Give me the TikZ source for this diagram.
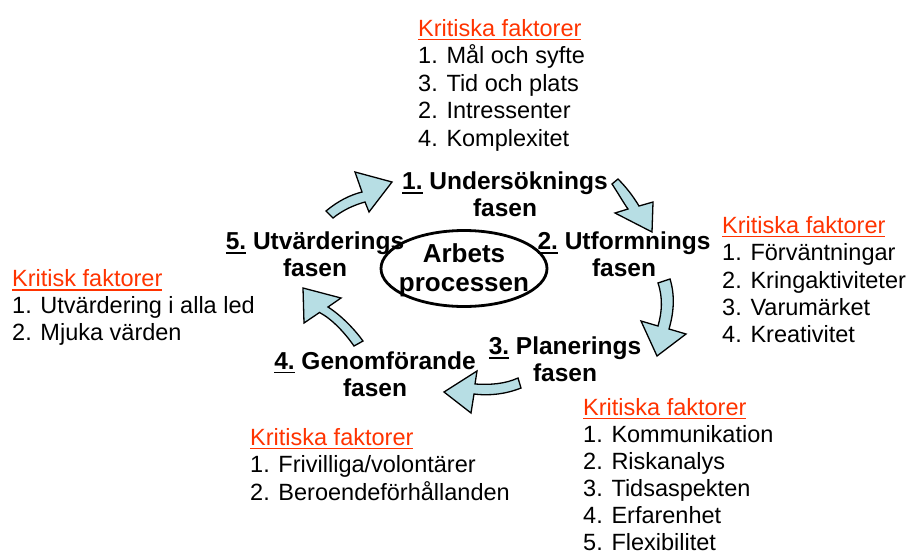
\documentclass[tikz,border=0pt]{standalone}
\usepackage{fontspec}
\setmainfont{Liberation Sans}
\definecolor{critred}{RGB}{255,51,0}
\definecolor{arrowblue}{RGB}{183,222,228}
\newcommand{\undl}[1]{\setbox0=\hbox{#1}\rlap{\rule[-4pt]{\wd0}{1.5pt}}\box0\relax}
\tikzset{
    every node/.style={font=\fontsize{23.5}{27}\selectfont},
    crithead/.style={anchor=base west, inner sep=0pt, text=critred},
    listitem/.style={anchor=base west, inner sep=0pt},
    phaselbl/.style={align=center, inner sep=0pt, font=\fontsize{24.5}{27}\selectfont\bfseries},
    blockarr/.style={fill=arrowblue, draw=black, line width=1.3pt, line join=miter},
}
\begin{document}
\begin{tikzpicture}[x=1pt, y=-1pt]
                    \useasboundingbox (0,0) rectangle (907,552);
                    % Centre
                    \node[inner sep=0pt, align=center, font=\fontsize{26}{29}\selectfont\bfseries]
                          (core) at (464,270) {Arbets\\processen};
                    \draw[line width=2.8pt] (464,268.5) ellipse [x radius=83, y radius=38];
                    % Phases
                    \node[phaselbl] (ph1) at (505,194.5) {\undl{1.} Undersöknings\\fasen};
                    \node[phaselbl] (ph2) at (624,254.5) {\undl{2.} Utformnings\\fasen};
                    \node[phaselbl] (ph3) at (565,359.5) {\undl{3.} Planerings\\fasen};
                    \node[phaselbl] (ph4) at (375,374) {\undl{4.} Genomförande\\fasen};
                    \node[phaselbl] (ph5) at (315,254.5) {\undl{5.} Utvärderings\\fasen};
                    % Arrows
                    \draw[blockarr] (326,211) .. controls (338,201) and (350,195) .. (362,192)
                        -- (355,172) -- (392,182) -- (369,212) -- (365,202)
                        .. controls (354,205) and (343,210) .. (333,218) -- cycle;
                    \draw[blockarr] (612,184) .. controls (618,193) and (623,202) .. (628,209)
                        -- (615,213) -- (652,232) -- (653,202) -- (639,206)
                        .. controls (633,196) and (626,187) .. (618,179) -- cycle;
                    \draw[blockarr] (658,283) .. controls (663,298) and (662,312) .. (658,326)
                        -- (641,321) -- (657,356) -- (686,334) -- (669,329)
                        .. controls (674,312) and (675,295) .. (670,279) -- cycle;
                    \draw[blockarr] (518,378) .. controls (505,384) and (490,385) .. (475,384)
                        -- (477,371) -- (444,392) -- (471,413) -- (474,394)
                        .. controls (490,396) and (506,394) .. (521,388) -- cycle;
                    \draw[blockarr] (354,346) .. controls (345,333) and (332,319) .. (319.5,312.5)
                        -- (304,323) -- (303,288) -- (341,298) -- (328,307)
                        .. controls (342,316) and (355,330) .. (363,341) -- cycle;
                    % Factors, top
                    \node[crithead] (top0) at (418,36) {\undl{Kritiska faktorer}};
                    \node[listitem] (top1) at (418,63.5) {1. Mål och syfte};
                    \node[listitem] (top2) at (418,91) {3. Tid och plats};
                    \node[listitem] (top3) at (418,118.5) {2. Intressenter};
                    \node[listitem] (top4) at (418,146) {4. Komplexitet};
                    % Factors, right
                    \node[crithead] (rgt0) at (722,233) {\undl{Kritiska faktorer}};
                    \node[listitem] (rgt1) at (722,260) {1. Förväntningar};
                    \node[listitem] (rgt2) at (722,288) {2. Kringaktiviteter};
                    \node[listitem] (rgt3) at (722,315) {3. Varumärket};
                    \node[listitem] (rgt4) at (722,342) {4. Kreativitet};
                    % Factors, left
                    \node[crithead] (lft0) at (12,286.5) {\undl{Kritisk faktorer}};
                    \node[listitem] (lft1) at (12,313) {1. Utvärdering i alla led};
                    \node[listitem] (lft2) at (12,340) {2. Mjuka värden};
                    % Factors, bottom right
                    \node[crithead] (brt0) at (583,415) {\undl{Kritiska faktorer}};
                    \node[listitem] (brt1) at (583,442) {1. Kommunikation};
                    \node[listitem] (brt2) at (583,469.5) {2. Riskanalys};
                    \node[listitem] (brt3) at (583,496.5) {3. Tidsaspekten};
                    \node[listitem] (brt4) at (583,523.5) {4. Erfarenhet};
                    \node[listitem] (brt5) at (583,550) {5. Flexibilitet};
                    % Factors, bottom left
                    \node[crithead] (blf0) at (250,445) {\undl{Kritiska faktorer}};
                    \node[listitem] (blf1) at (250,472) {1. Frivilliga/volontärer};
                    \node[listitem] (blf2) at (250,500) {2. Beroendeförhållanden};
\end{tikzpicture}
\end{document}
